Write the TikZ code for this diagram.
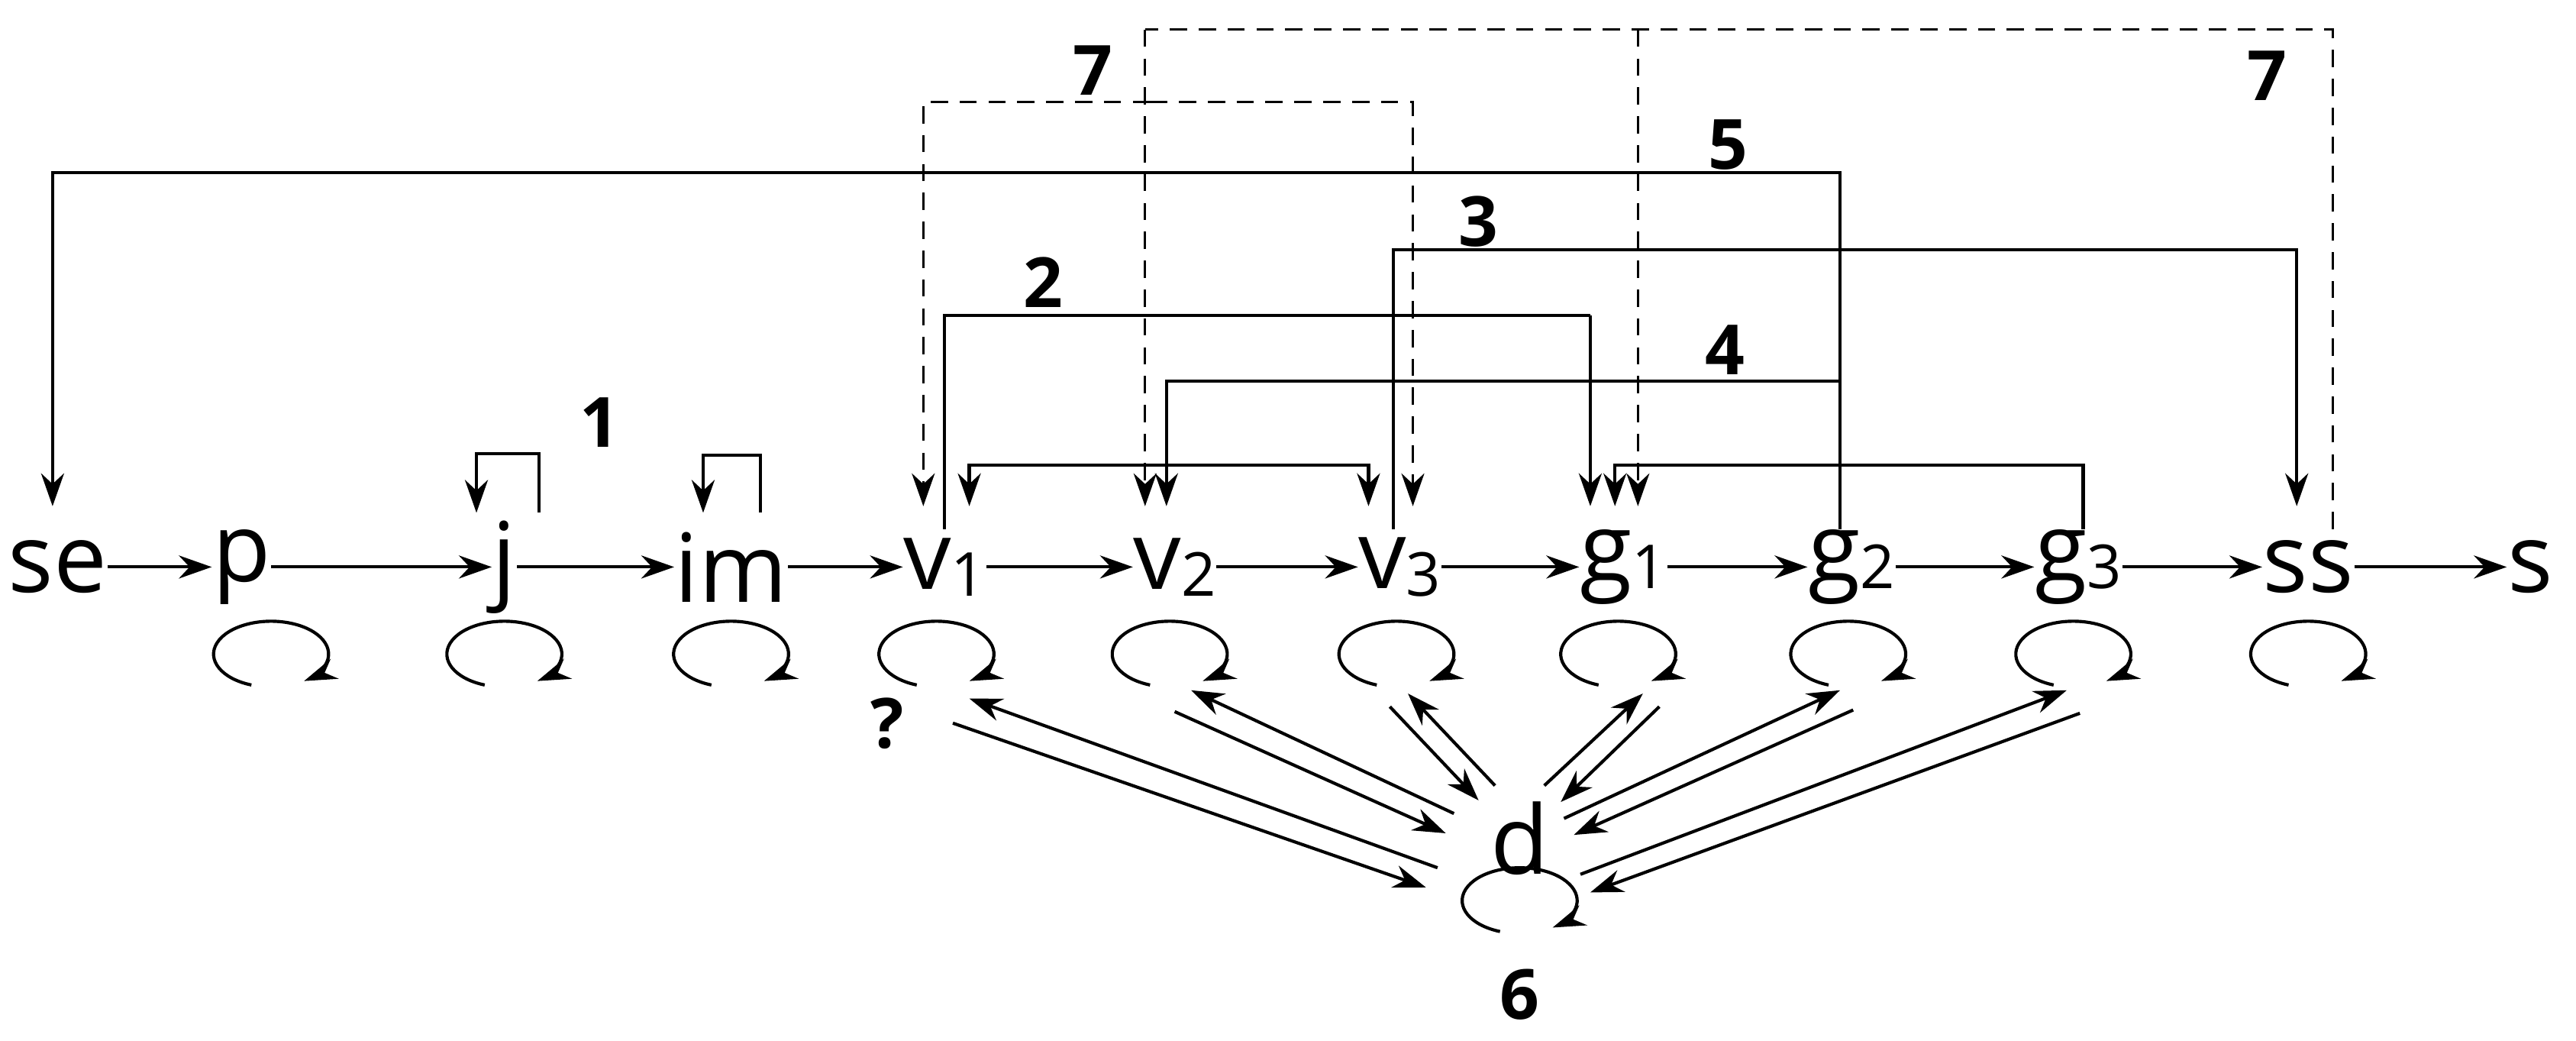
\documentclass[tikz,border=0pt]{standalone}
\usepackage{fontspec}
\setmainfont{Open Sans}
\usetikzlibrary{arrows.meta}
\begin{document}
\begin{tikzpicture}[x=0.02cm,y=-0.02cm,
  n/.style={inner sep=0pt,font=\fontsize{33}{36}\selectfont},
  lab/.style={inner sep=0pt,font=\fontsize{24}{26}\selectfont\bfseries},
  e/.style={line width=1.1pt,-{Stealth[length=0.4cm,width=0.28cm]}},
  l/.style={line width=1.1pt},
  dl/.style={line width=0.8pt,dash pattern=on 6pt off 4pt},
  de/.style={dl,-{Stealth[length=0.4cm,width=0.28cm]}},
  lp/.style={line width=1.1pt,-{Stealth[length=0.4cm,width=0.26cm]}}]
\newcommand{\sub}[2]{#1{\fontsize{21}{21}\selectfont\raisebox{-0.12em}{#2}}}
\useasboundingbox (0,0) rectangle (1568,633);
\node[n] (se) at (35,345) {se};
\node[n] (p) at (147,345) {p};
\node[n] (j) at (307,345) {j};
\node[n] (im) at (445,345) {im};
\node[n] (v1) at (575,345) {\sub{v}{1}};
\node[n] (v2) at (715,345) {\sub{v}{2}};
\node[n] (v3) at (852,345) {\sub{v}{3}};
\node[n] (g1) at (988,345) {\sub{g}{1}};
\node[n] (g2) at (1127,345) {\sub{g}{2}};
\node[n] (g3) at (1265,345) {\sub{g}{3}};
\node[n] (ss) at (1405,345) {ss};
\node[n] (s) at (1540,345) {s};
\node[n] (d) at (925,510) {d};
% horizontal chain
\draw[e] (se) -- (p);
\draw[e] (p) -- (j);
\draw[e] (j) -- (im);
\draw[e] (im) -- (v1);
\draw[e] (v1) -- (v2);
\draw[e] (v2) -- (v3);
\draw[e] (v3) -- (g1);
\draw[e] (g1) -- (g2);
\draw[e] (g2) -- (g3);
\draw[e] (g3) -- (ss);
\draw[e] (ss) -- (s);
% self loops
\foreach \x in {165,307,445,570,712,850,985,1125,1262,1405}
  \draw[lp] (\x,398) ++(110:35 and 20) arc[start angle=110,end angle=415,x radius=35,y radius=20];
\draw[lp] (925,548) ++(110:35 and 20) arc[start angle=110,end angle=415,x radius=35,y radius=20];
% small top loops
\draw[e] (328,312) -- (328,276) -- (290,276) -- (290,312);
\draw[e] (463,312) -- (463,277) -- (428,277) -- (428,312);
% top edges
\draw[e] (1120,322) -- (1120,105) -- (32,105) -- (32,308);
\draw[e] (848,322) -- (848,152) -- (1398,152) -- (1398,308);
\draw[l] (575,322) -- (575,192) -- (968,192);
\draw[e] (968,192) -- (968,308);
\draw[e] (1120,232) -- (710,232) -- (710,308);
\draw[e] (700,283) -- (590,283) -- (590,308);
\draw[e] (700,283) -- (833,283) -- (833,308);
\draw[e] (1268,322) -- (1268,283) -- (983,283) -- (983,308);
\draw[de] (700,62) -- (562,62) -- (562,308);
\draw[de] (700,62) -- (860,62) -- (860,308);
\draw[dl] (1420,322) -- (1420,18) -- (697,18);
\draw[de] (697,18) -- (697,308);
\draw[de] (997,18) -- (997,308);
% d pairs
\coordinate (a1) at (875,528); \coordinate (b1) at (590,425);
\coordinate (a2) at (580,440); \coordinate (b2) at (868,540);
\draw[e] (a1) -- (b1); \draw[e] (a2) -- (b2);
\coordinate (a3) at (885,495); \coordinate (b3) at (725,420);
\coordinate (a4) at (715,433); \coordinate (b4) at (880,507);
\draw[e] (a3) -- (b3); \draw[e] (a4) -- (b4);
\coordinate (a5) at (910,478); \coordinate (b5) at (857,422);
\coordinate (a6) at (846,430); \coordinate (b6) at (900,487);
\draw[e] (a5) -- (b5); \draw[e] (a6) -- (b6);
\coordinate (a7) at (940,478); \coordinate (b7) at (1000,422);
\coordinate (a8) at (1010,430); \coordinate (b8) at (950,488);
\draw[e] (a7) -- (b7); \draw[e] (a8) -- (b8);
\coordinate (a9) at (952,498); \coordinate (b9) at (1120,420);
\coordinate (a10) at (1128,432); \coordinate (b10) at (958,508);
\draw[e] (a9) -- (b9); \draw[e] (a10) -- (b10);
\coordinate (a11) at (962,532); \coordinate (b11) at (1258,420);
\coordinate (a12) at (1266,434); \coordinate (b12) at (968,543);
\draw[e] (a11) -- (b11); \draw[e] (a12) -- (b12);
% labels
\node[lab] (l1) at (365,257) {1};
\node[lab] (l2) at (635,172) {2};
\node[lab] (l3) at (900,135) {3};
\node[lab] (l4) at (1050,213) {4};
\node[lab] (l5) at (1052,88) {5};
\node[lab] (l6) at (925,605) {6};
\node[lab] (l7a) at (665,43) {7};
\node[lab] (l7b) at (1380,46) {7};
\node[lab] (q) at (540,440) {?};
\end{tikzpicture}
\end{document}
